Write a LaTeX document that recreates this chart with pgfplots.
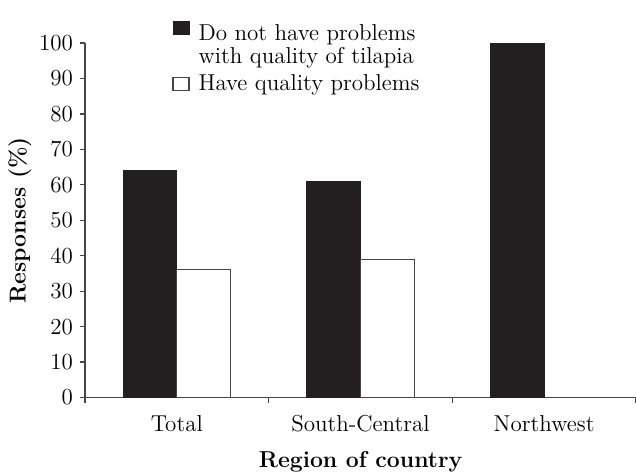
\documentclass[border=0pt]{standalone}
\usepackage{pgfplots}
\pgfplotsset{compat=1.18}
\usetikzlibrary{calc}
\definecolor{barblack}{RGB}{35,31,32}
\definecolor{edgegray}{RGB}{70,70,70}
\pgfplotsset{
  imgA/.style={legend image code/.code={\draw[##1] (0pt,3pt) rectangle (8pt,9.5pt);}},
  imgB/.style={legend image code/.code={\draw[##1] (0pt,-3pt) rectangle (8pt,3.5pt);}},
}
\begin{document}
\begin{tikzpicture}
\begin{axis}[
  width=275.5pt, height=177.25pt, scale only axis,
  ymin=0, ymax=100, xmin=-0.5, xmax=2.5,
  ytick={0,10,...,100},
  xtick={-0.5,0.5,1.5,2.5},
  x tick label as interval,
  xticklabels={Total,South-Central,Northwest},
  axis lines*=left,
  axis line style={edgegray, line width=0.6pt},
  tick style={edgegray, line width=0.6pt},
  tick align=outside,
  major tick length=2.5pt,
  /pgf/number format/assume math mode=true,
  ticklabel style={font=\fontsize{11.5}{12}\selectfont},
  xticklabel style={yshift=-3pt},
  ylabel={\bfseries Responses (\%)},
  xlabel={\bfseries Region of country},
  every axis y label/.style={at={(axis description cs:-0.118,0.5)}, rotate=90, anchor=center, font=\fontsize{11.5}{12}\selectfont},
  every axis x label/.style={at={(axis description cs:0.5,0)}, anchor=base, yshift=-35pt, font=\fontsize{11.5}{12}\selectfont},
  ybar, bar width=0.293,
  clip=false,
  legend style={draw=none, fill=none, at={(0.158,1.063)}, anchor=north west,
    font=\fontsize{11.5}{10}\selectfont, /tikz/row sep=9.5pt, /tikz/column sep=4.5pt,
    cells={anchor=west}, nodes={inner sep=0pt}, inner sep=0pt},
]
\addplot[imgA, fill=barblack, draw=barblack, bar shift=-0.1465] coordinates {(0,64) (1,61) (2,100)};
\addlegendentry{\begin{tabular}{@{}l@{}}Do not have problems\\with quality of tilapia\end{tabular}}
\addplot[imgB, fill=white, draw=edgegray, line width=0.6pt, bar shift=0.1465] coordinates {(0,36) (1,39)};
\addlegendentry{Have quality problems}
\end{axis}
\pgfresetboundingbox
\path ($(current axis.south west)+(-42.5pt,-37pt)$) rectangle ($(current axis.north east)+(0pt,21.5pt)$);
\end{tikzpicture}
\end{document}
